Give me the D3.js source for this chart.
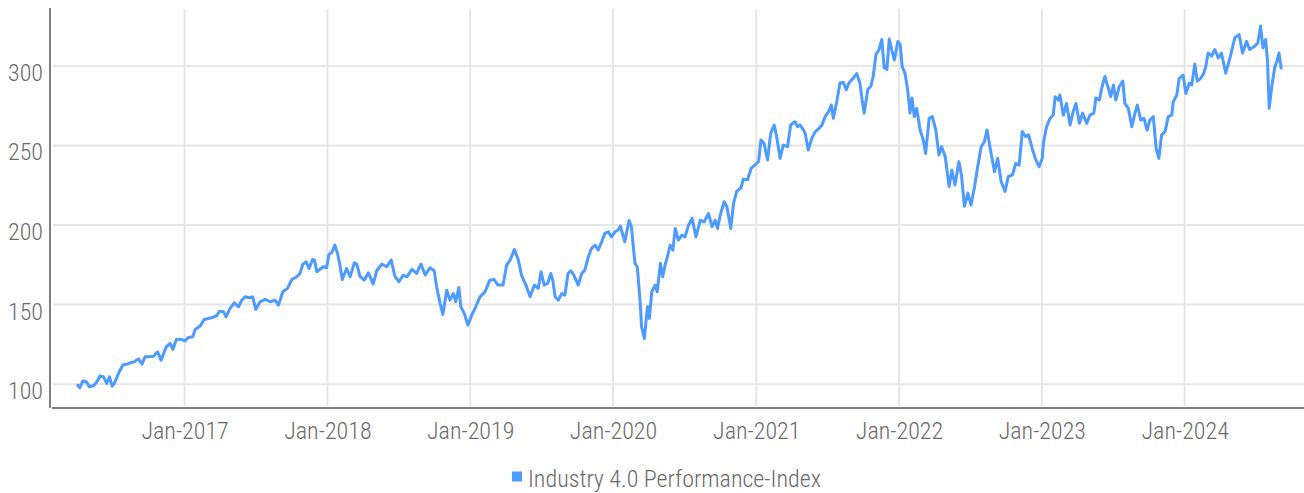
<!DOCTYPE html>
<html>
<head>
<meta charset="utf-8">
<script src="https://cdn.jsdelivr.net/npm/d3@7"></script>
<style>
  html, body { margin: 0; padding: 0; background: #fff; }
  svg text { font-family: "Liberation Sans Narrow", "Roboto Condensed", sans-serif; font-weight: 300; fill: #6a6a6a; }
</style>
</head>
<body>
<div id="chart"></div>
<script>
// series: Industry 4.0 Performance-Index
const seriesName = 'Industry 4.0 Performance-Index';
const dates = [
  '2016-04-01','2016-04-08','2016-04-16','2016-04-25','2016-05-03','2016-05-13','2016-05-22','2016-05-30',
  '2016-06-08','2016-06-16','2016-06-23','2016-06-30','2016-07-06','2016-07-16','2016-07-27','2016-08-07',
  '2016-08-15','2016-08-25','2016-09-05','2016-09-14','2016-09-22','2016-10-03','2016-10-14','2016-10-24',
  '2016-11-02','2016-11-15','2016-11-25','2016-12-02','2016-12-11','2016-12-21',
  '2017-01-02','2017-01-11','2017-01-22','2017-01-28','2017-02-10','2017-02-20','2017-03-03','2017-03-14',
  '2017-03-24','2017-03-31','2017-04-10','2017-04-17','2017-04-27','2017-05-08','2017-05-19','2017-05-27',
  '2017-06-05','2017-06-16','2017-06-24','2017-07-02','2017-07-13','2017-07-26','2017-08-08','2017-08-20',
  '2017-08-29','2017-09-09','2017-09-21','2017-10-02','2017-10-15','2017-10-23','2017-10-30','2017-11-08',
  '2017-11-15','2017-11-24','2017-11-29','2017-12-05','2017-12-13','2017-12-22','2017-12-30',
  '2018-01-05','2018-01-12','2018-01-20','2018-01-27','2018-02-02','2018-02-08','2018-02-19','2018-02-28',
  '2018-03-11','2018-03-17','2018-03-25','2018-04-05','2018-04-16','2018-04-28','2018-05-07','2018-05-20',
  '2018-06-02','2018-06-13','2018-06-23','2018-07-03','2018-07-14','2018-07-23','2018-08-05','2018-08-17',
  '2018-08-28','2018-09-08','2018-09-20','2018-10-01','2018-10-07','2018-10-16','2018-10-23','2018-11-02',
  '2018-11-10','2018-11-19','2018-11-25','2018-12-03','2018-12-08','2018-12-17','2018-12-26',
  '2019-01-05','2019-01-15','2019-01-26','2019-02-08','2019-02-20','2019-03-03','2019-03-13','2019-03-26',
  '2019-04-04','2019-04-13','2019-04-24','2019-05-04','2019-05-12','2019-05-25','2019-06-03','2019-06-14',
  '2019-06-24','2019-07-01','2019-07-09','2019-07-18','2019-07-26','2019-07-31','2019-08-06','2019-08-14',
  '2019-08-23','2019-08-31','2019-09-08','2019-09-15','2019-09-23','2019-10-04','2019-10-13','2019-10-21',
  '2019-10-30','2019-11-07','2019-11-16','2019-11-24','2019-12-03','2019-12-11','2019-12-20','2019-12-28',
  '2020-01-06','2020-01-14','2020-01-20','2020-01-31','2020-02-11','2020-02-17','2020-02-26','2020-03-03',
  '2020-03-10','2020-03-14','2020-03-21','2020-03-29','2020-04-03','2020-04-09','2020-04-18','2020-04-23',
  '2020-05-01','2020-05-07','2020-05-13','2020-05-19','2020-05-26','2020-06-02','2020-06-08','2020-06-16',
  '2020-06-25','2020-07-03','2020-07-12','2020-07-21','2020-07-31','2020-08-11','2020-08-21','2020-09-01',
  '2020-09-10','2020-09-18','2020-09-24','2020-10-01','2020-10-11','2020-10-18','2020-10-28','2020-11-04',
  '2020-11-12','2020-11-23','2020-11-29','2020-12-10','2020-12-19',
  '2021-01-02','2021-01-07','2021-01-13','2021-01-21','2021-01-30','2021-02-07','2021-02-16','2021-02-23',
  '2021-03-03','2021-03-11','2021-03-22','2021-03-30','2021-04-10','2021-04-17','2021-04-23','2021-05-02',
  '2021-05-06','2021-05-14','2021-05-23','2021-06-01','2021-06-11','2021-06-18','2021-06-26','2021-07-05',
  '2021-07-12','2021-07-17','2021-07-26','2021-08-03','2021-08-12','2021-08-19','2021-08-26','2021-09-04',
  '2021-09-15','2021-09-23','2021-09-29','2021-10-04','2021-10-13','2021-10-21','2021-10-27','2021-11-03',
  '2021-11-11','2021-11-18','2021-11-24','2021-12-01','2021-12-07','2021-12-13','2021-12-20','2021-12-29',
  '2022-01-04','2022-01-09','2022-01-16','2022-01-23','2022-01-29','2022-02-03','2022-02-09','2022-02-15',
  '2022-02-24','2022-03-04','2022-03-10','2022-03-19','2022-03-27','2022-04-05','2022-04-13','2022-04-20',
  '2022-04-29','2022-05-09','2022-05-16','2022-05-24','2022-06-03','2022-06-10','2022-06-17','2022-06-26',
  '2022-07-04','2022-07-13','2022-07-21','2022-07-30','2022-08-07','2022-08-14','2022-08-22','2022-09-02',
  '2022-09-10','2022-09-19','2022-09-29','2022-10-07','2022-10-18','2022-10-26','2022-11-04','2022-11-12',
  '2022-11-21','2022-11-28','2022-12-06','2022-12-15','2022-12-25',
  '2023-01-02','2023-01-05','2023-01-09','2023-01-13','2023-01-22','2023-01-30','2023-02-04','2023-02-12',
  '2023-02-16','2023-02-25','2023-03-05','2023-03-14','2023-03-22','2023-03-29','2023-04-07','2023-04-15',
  '2023-04-26','2023-05-04','2023-05-14','2023-05-19','2023-05-28','2023-06-03','2023-06-11','2023-06-20',
  '2023-06-26','2023-07-03','2023-07-09','2023-07-18','2023-07-27','2023-08-01','2023-08-10','2023-08-19',
  '2023-08-27','2023-09-02','2023-09-11','2023-09-19','2023-09-27','2023-10-04','2023-10-13','2023-10-20',
  '2023-10-27','2023-11-03','2023-11-12','2023-11-20','2023-11-29','2023-12-03','2023-12-12','2023-12-18',
  '2023-12-28',
  '2024-01-04','2024-01-13','2024-01-19','2024-01-27','2024-02-02','2024-02-11','2024-02-19','2024-02-24',
  '2024-03-01','2024-03-10','2024-03-18','2024-03-27','2024-04-04','2024-04-15','2024-04-27','2024-05-08',
  '2024-05-19','2024-05-28','2024-06-07','2024-06-15','2024-06-28','2024-07-06','2024-07-13','2024-07-19',
  '2024-07-26','2024-07-31','2024-08-04','2024-08-10','2024-08-18','2024-08-24','2024-08-29','2024-09-04'
];
const values = [
  100,97.7,102,101.5,98.3,99,101.5,105.2,
  104.6,100.4,104.6,98.7,100.8,106.7,112,112.6,
  113.4,114,115.9,112.6,117.2,117.2,117.6,120.3,
  115.1,123.5,125.6,121.8,128.1,128.3,
  127.2,129.4,129.8,134.4,136.5,140.7,141.3,142,
  143,145.9,145.5,142.3,147.6,151.1,148.6,152.8,
  154.9,154.3,154.9,147,151.8,153.3,151.8,152.8,
  149.7,158.1,160.2,165.8,167.5,169.6,175.3,176.9,
  172.7,178.4,178,170.7,172.2,173.8,173.2,
  181.6,182.6,187.4,182.1,174.8,165.8,172.7,167.5,
  176.3,175.5,167.9,165.4,170,162.9,171.3,175.5,
  173.8,178,167.5,164.4,168.6,167.5,172.2,169.6,
  175.5,168.6,173.2,171.3,161.3,150.8,143.8,159.1,
  152.8,157,151.8,160.8,148.6,144.5,137.1,
  143.4,148.6,154.9,158.1,165.4,165.8,162.3,162.3,
  174.8,178,184.7,178,168.6,161.3,154.9,162.3,
  160.2,170.7,162.3,163.4,169.6,165.4,154.9,152.8,
  157,156,169.6,171.3,168.6,162.3,169.6,171.7,
  180.1,185.4,187.4,184.3,189.5,194.8,195.8,192.6,
  195.8,196.9,199.4,189.5,202.8,199,175.9,173.8,
  152.8,136,128.7,148.6,141.3,158.1,162.3,158.1,
  175.9,167.5,174.8,180.1,187.4,184.3,197.9,190.6,
  193.7,192.6,200,204.2,192.6,203.1,202,207.3,
  199,203.1,197.9,206.3,214.7,211.5,197.9,213.6,
  221.2,223.3,228.9,228.5,235.7,
  238.8,239.9,253.5,251.4,240.9,257.7,262.9,254.5,
  241.9,250.3,249.3,262.9,265,261.9,262.9,259.7,
  257.7,247.2,254.5,258.8,261,262.9,268.2,271.3,
  275.5,267.1,277.8,289.3,289.7,285.2,289.3,291.8,
  295.2,289.3,277.8,270.4,285.2,287.3,293.6,307.2,
  310.4,316.7,298.9,297.9,317,310.4,303.8,315.5,
  313.4,299.8,295.6,285.2,270.4,279.9,268.2,273.4,
  259.7,253.5,245.1,267.1,268.2,259.7,244,249.3,
  243,224.2,234.6,225.2,239.9,230.5,211.8,220.1,
  212.6,224.2,236.7,249.3,252.4,259.7,248.2,233.6,
  242,227.3,221.1,230.5,231.6,238.8,237.7,258.8,
  255.7,256.7,249.3,242,236.7,
  242,251.4,256.7,261.9,267.1,269.2,280.7,278.6,
  281.8,269.2,276.5,262.9,271.3,276.5,264,270.4,
  264,269.2,270.4,279.9,278.6,286,293.4,286,
  280.8,288.1,278.6,287.3,290.5,276.5,273.4,261.9,
  270.4,275.5,266,267.1,259.7,266,268.2,248.2,
  241.9,256.7,258.8,268.2,269.2,277.6,281.8,292.3,
  294.3,
  282.8,289.3,288.1,301.3,290.5,292.3,295.5,299.8,
  308.2,306.2,310.4,305.1,308.2,295.5,306.2,317.7,
  319.8,308.2,315.5,310.4,312.4,314.5,325.2,311.4,
  316.7,302,273.4,286,298.9,303.1,308.2,297.9
];
const yTicks = [100, 150, 200, 250, 300];
const xTickYears = [2017, 2018, 2019, 2020, 2021, 2022, 2023, 2024];

const width = 1304;
const height = 493;
const mLeft = 50, mRight = 1304, mTop = 8, mBottom = 408;
const lineColor = '#4d9bff';

const parse = d3.timeParse('%Y-%m-%d');
const data = dates.map((d, i) => ({ date: parse(d), value: values[i] }));

const x = d3.scaleTime()
  .domain([new Date(2016, 0, 23), new Date(2024, 10, 1)])
  .range([mLeft, mRight]);

const y = d3.scaleLinear()
  .domain([85, 336.5])
  .range([mBottom, mTop]);

const svg = d3.select('#chart')
  .append('svg')
  .attr('width', width)
  .attr('height', height);

// grid
const xTicks = xTickYears.map(yr => new Date(yr, 0, 1));

svg.append('g')
  .selectAll('line')
  .data(xTicks)
  .enter()
  .append('line')
  .attr('x1', d => x(d)).attr('x2', d => x(d))
  .attr('y1', mTop + 1).attr('y2', mBottom - 2)
  .attr('stroke', '#e6e6e6')
  .attr('stroke-width', 2);

svg.append('g')
  .selectAll('line')
  .data(yTicks)
  .enter()
  .append('line')
  .attr('x1', mLeft + 3).attr('x2', mRight)
  .attr('y1', d => y(d)).attr('y2', d => y(d))
  .attr('stroke', '#e6e6e6')
  .attr('stroke-width', 2);

// axis labels through d3.axis, axis lines by hand
const yAxis = svg.append('g')
  .attr('transform', 'translate(' + (mLeft - 7) + ',0)')
  .call(d3.axisLeft(y).tickValues(yTicks).tickSize(0).tickPadding(0));
yAxis.select('.domain').remove();
yAxis.selectAll('text')
  .attr('dy', '0.6em')
  .attr('font-size', 24);

const xAxis = svg.append('g')
  .attr('transform', 'translate(0,' + mBottom + ')')
  .call(d3.axisBottom(x).tickValues(xTicks).tickFormat(d3.timeFormat('%b-%Y')).tickSize(0).tickPadding(14));
xAxis.select('.domain').remove();
xAxis.selectAll('text')
  .attr('font-size', 24);

svg.append('line')
  .attr('x1', mLeft).attr('x2', mLeft)
  .attr('y1', mTop).attr('y2', mBottom)
  .attr('stroke', '#808080')
  .attr('stroke-width', 2);

svg.append('line')
  .attr('x1', mLeft + 2).attr('x2', mRight)
  .attr('y1', mBottom).attr('y2', mBottom)
  .attr('stroke', '#808080')
  .attr('stroke-width', 2);

// series
const line = d3.line()
  .x(d => x(d.date))
  .y(d => y(d.value));

svg.append('path')
  .datum(data)
  .attr('fill', 'none')
  .attr('stroke', lineColor)
  .attr('stroke-width', 3)
  .attr('stroke-linejoin', 'round')
  .attr('d', line);

// legend
const legend = svg.append('g');
legend.append('rect')
  .attr('x', 512).attr('y', 471.5)
  .attr('width', 10).attr('height', 10)
  .attr('fill', lineColor);
legend.append('text')
  .attr('x', 528).attr('y', 487)
  .attr('font-size', 24)
  .text(seriesName);
</script>
</body>
</html>
